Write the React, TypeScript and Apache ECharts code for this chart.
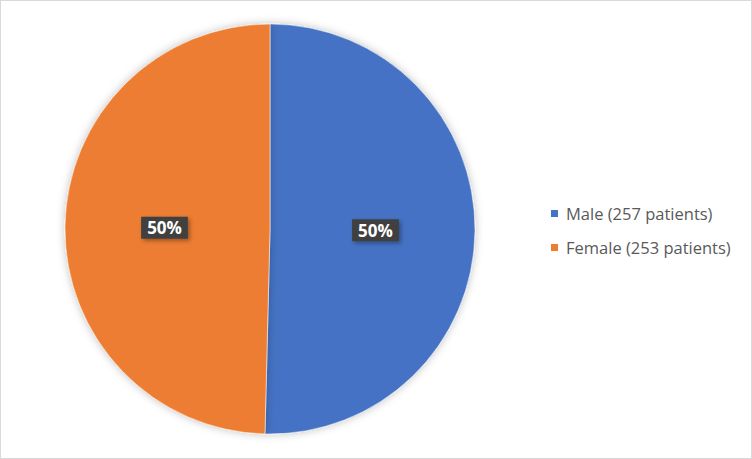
import React, { useEffect, useRef } from "react";
import * as echarts from "echarts";

const categories = ["Male (257 patients)", "Female (253 patients)"];
const values = [257, 253];
const labels = ["50%", "50%"];
const colors = ["#4472C4", "#ED7D31"];

export default function App() {
  const ref = useRef<HTMLDivElement>(null);
  useEffect(() => {
    document.body.style.margin = "0";
    const chart = echarts.init(ref.current!, null, { renderer: "svg" });
    chart.setOption({
      animation: false,
      backgroundColor: "#ffffff",
      legend: {
        orient: "vertical",
        left: 543,
        top: 199,
        itemWidth: 9,
        itemHeight: 9,
        itemGap: 17,
        icon: "rect",
        textStyle: {
          fontFamily: "Open Sans",
          fontSize: 16.5,
          color: "#595959",
          padding: [0, 0, 0, 2],
        },
        data: categories,
      },
      series: [
        {
          type: "pie",
          center: [269, 228],
          radius: [0, 205],
          startAngle: 90,
          clockwise: true,
          itemStyle: {
            borderColor: "#ffffff",
            borderWidth: 0.5,
            shadowBlur: 8,
            shadowColor: "rgba(0,0,0,0.25)",
          },
          label: {
            show: true,
            position: "inside",
            formatter: (p: any) => labels[p.dataIndex],
            fontFamily: "Open Sans",
            fontWeight: "bold",
            fontSize: 17,
            color: "#ffffff",
            backgroundColor: "#404040",
            padding: [3, 6, 2, 6],
            shadowBlur: 4,
            shadowOffsetX: 2,
            shadowOffsetY: 2,
            shadowColor: "rgba(0,0,0,0.35)",
          },
          labelLine: { show: false },
          data: categories.map((name, i) => ({
            name,
            value: values[i],
            itemStyle: { color: colors[i] },
          })),
        },
      ],
    });
    return () => chart.dispose();
  }, []);
  return (
    <div
      style={{
        position: "absolute",
        left: 0,
        top: 0,
        width: 752,
        height: 459,
        boxSizing: "border-box",
        border: "1px solid #D9D9D9",
        background: "#fff",
      }}
    >
      <div ref={ref} style={{ width: 750, height: 457 }} />
    </div>
  );
}
